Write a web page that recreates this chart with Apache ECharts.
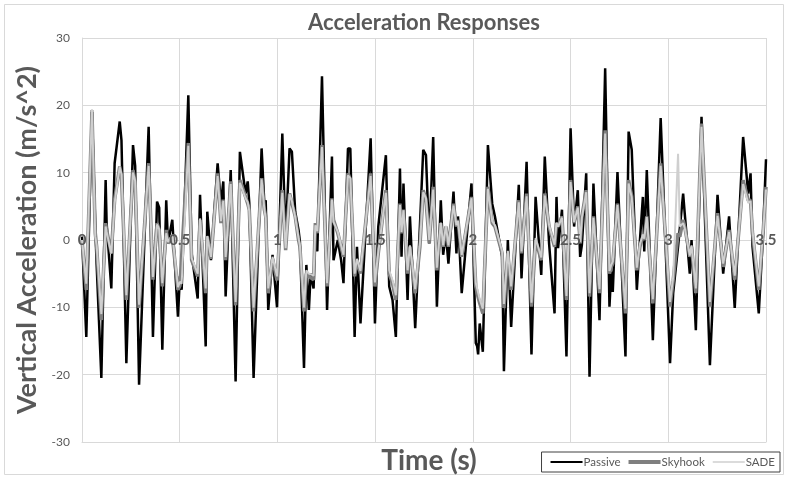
<!DOCTYPE html>
<html>
<head>
<meta charset="utf-8">
<script src="https://cdn.jsdelivr.net/npm/echarts@6/dist/echarts.min.js"></script>
<style>
  html, body { margin: 0; padding: 0; background: #fff; }
  #chart { width: 788px; height: 479px; }
</style>
</head>
<body>
<div id="chart"></div>
<script>
// Sample times (s) of the response record
const time = [
  0.000, 0.022, 0.051, 0.068, 0.075, 0.099, 0.121, 0.126, 0.150, 0.167,
  0.193, 0.202, 0.227, 0.261, 0.272, 0.292, 0.341, 0.363, 0.384, 0.395,
  0.411, 0.431, 0.440, 0.462, 0.491, 0.501, 0.510, 0.544, 0.561, 0.592,
  0.604, 0.633, 0.641, 0.660, 0.694, 0.711, 0.723, 0.735, 0.761, 0.786,
  0.808, 0.837, 0.848, 0.856, 0.878, 0.919, 0.933, 0.940, 0.953, 0.975,
  0.998, 1.025, 1.042, 1.062, 1.074, 1.091, 1.108, 1.115, 1.136, 1.148,
  1.161, 1.170, 1.185, 1.194, 1.204, 1.228, 1.254, 1.279, 1.287, 1.309,
  1.326, 1.338, 1.361, 1.373, 1.395, 1.407, 1.425, 1.477, 1.499, 1.516,
  1.555, 1.572, 1.589, 1.606, 1.627, 1.635, 1.645, 1.666, 1.678, 1.705,
  1.729, 1.746, 1.760, 1.777, 1.797, 1.816, 1.836, 1.848, 1.862, 1.875,
  1.901, 1.916, 1.924, 1.943, 1.993, 2.015, 2.022, 2.027, 2.035, 2.051,
  2.077, 2.099, 2.113, 2.150, 2.159, 2.179, 2.196, 2.235, 2.249, 2.275,
  2.300, 2.321, 2.350, 2.368, 2.390, 2.418, 2.428, 2.436, 2.456, 2.479,
  2.500, 2.518, 2.537, 2.549, 2.558, 2.580, 2.597, 2.617, 2.648, 2.677,
  2.699, 2.708, 2.716, 2.740, 2.781, 2.797, 2.813, 2.839, 2.855, 2.870,
  2.877, 2.890, 2.921, 2.961, 3.009, 3.025, 3.050, 3.059, 3.076, 3.084,
  3.110, 3.119, 3.141, 3.170, 3.213, 3.252, 3.281, 3.311, 3.340, 3.383,
  3.409, 3.421, 3.431, 3.463, 3.485, 3.500
];

// Vertical acceleration (m/s^2), passive suspension
const passive = [
  0.5, -14.4, 19.3, 2.0, -3.7, -20.5, 8.9, 2.5, -7.2, 11.4,
  17.6, 14.8, -18.3, 14.1, 11.0, -21.5, 16.8, -14.4, 5.7, 4.8,
  -16.3, 5.9, -0.5, 3.0, -11.4, -5.4, -7.4, 21.5, -2.0, -8.7,
  6.7, -15.8, 4.2, -3.0, 11.4, 5.4, 8.7, -8.4, 10.4, -21.0,
  13.1, 6.9, 8.7, 5.5, -20.5, 13.6, 5.4, 5.9, -10.4, -2.2,
  -10.0, 15.8, 0.0, 13.6, 13.1, 4.2, 1.5, -0.2, -19.0, -3.7,
  -10.4, -5.0, -7.2, 2.2, -1.7, 24.3, -10.4, 12.4, -3.0, 0.0,
  -3.0, -6.4, 13.6, 13.6, -14.4, -1.0, -12.4, 15.1, -12.4, 2.0,
  12.6, -6.9, -8.9, -14.4, 10.6, -2.5, 8.4, -8.9, 3.5, -13.1,
  2.0, 13.4, 12.6, -0.5, 15.3, -9.9, 5.9, -2.2, 1.0, -3.5,
  7.2, -2.0, 3.5, -7.9, 8.4, -15.3, -15.8, -17.0, -12.4, -16.6,
  14.1, 5.4, 3.5, -2.5, -19.5, 0.0, -12.9, 8.2, -5.7, 11.6,
  -17.0, 6.4, -5.2, 12.4, -0.5, -10.9, 6.4, -1.2, 4.5, -17.3,
  16.6, 2.0, 7.4, -2.5, -0.7, 9.9, -20.3, 8.4, -11.9, 25.5,
  -9.9, -4.7, -7.7, 10.1, -17.3, 16.1, 13.4, -7.4, 0.0, 6.4,
  -1.7, 10.4, -14.9, 18.1, -18.3, -7.9, -1.0, -1.0, 6.9, 4.0,
  -5.0, 0.0, -13.4, 18.3, -18.6, 6.7, -5.0, 3.5, -10.1, 15.3,
  6.9, 9.9, -1.0, -10.9, 1.0, 12.0
];

// Vertical acceleration (m/s^2), skyhook control
const skyhook = [
  0.0, -7.4, 19.0, 1.0, -1.0, -11.9, 2.5, 1.5, -2.0, 6.0,
  10.9, 9.5, -8.9, 10.4, 8.5, -10.1, 11.4, -5.9, 2.5, 1.5,
  -6.9, 1.5, -0.5, 0.5, -7.4, -6.8, -7.0, 14.4, -3.0, -5.4,
  3.0, -7.9, 0.5, -2.8, 9.9, 2.5, 6.0, -3.0, 8.7, -9.7,
  8.9, 6.4, 5.4, 4.5, -10.6, 9.2, 4.5, 3.5, -7.9, -2.8,
  -6.0, 7.4, -1.5, 6.9, 5.5, 3.5, 0.0, -1.0, -10.6, -5.0,
  -5.4, -5.2, -5.9, 2.5, 1.0, 14.1, -6.9, 6.2, 3.0, 1.0,
  -1.0, -2.5, 9.9, 9.0, -5.4, -3.0, -5.0, 9.9, -6.9, -2.0,
  7.4, -5.0, -6.5, -8.9, 5.4, 1.0, 4.5, -5.0, -1.0, -7.9,
  -1.0, 7.4, 6.0, -0.5, 7.9, -4.5, 2.5, -1.0, 2.0, -1.0,
  5.4, 2.0, 3.0, -2.5, 6.4, -6.9, -7.9, -8.5, -9.4, -10.9,
  7.9, 2.5, 2.0, -2.0, -10.1, -2.0, -7.4, 5.9, -2.0, 6.9,
  -9.9, 0.0, -3.0, 6.9, 2.0, -1.0, 2.5, 2.0, 3.5, -8.9,
  8.9, 2.5, 5.0, -0.5, 3.5, 7.4, -8.4, 3.5, -7.9, 16.3,
  -5.0, -4.0, -3.5, 5.4, -10.9, 8.9, 6.5, -4.5, -1.0, 0.5,
  0.0, 3.5, -9.4, 11.4, -9.9, -6.0, 1.0, 0.5, 3.0, 2.0,
  -2.5, -1.0, -7.9, 17.3, -9.9, 4.0, -4.0, 1.5, -5.9, 8.9,
  5.9, 5.9, 1.0, -7.4, 1.0, 7.9
];

// Vertical acceleration (m/s^2), SADE control
const sade = [
  0.0, -6.5, 19.4, 0.5, -0.8, -11.0, 2.0, 1.2, -2.0, 5.5,
  10.9, 9.8, -8.2, 10.0, 8.8, -9.6, 11.0, -5.5, 2.3, 1.6,
  -6.4, 1.0, -0.3, 0.8, -7.0, -6.2, -6.5, 14.0, -2.7, -5.0,
  3.2, -7.2, 0.6, -2.5, 9.5, 2.8, 5.8, -2.5, 8.3, -9.2,
  8.5, 6.2, 5.6, 4.3, -10.0, 9.0, 4.6, 3.2, -7.2, -2.5,
  -5.4, 7.0, -1.2, 6.8, 5.8, 3.4, 0.3, -0.8, -10.0, -4.5,
  -5.0, -4.8, -5.3, 2.2, 1.3, 13.8, -6.4, 6.0, 2.7, 1.2,
  -0.8, -2.2, 9.6, 9.2, -5.0, -2.8, -4.6, 9.5, -6.3, -1.8,
  7.0, -4.5, -6.0, -8.2, 5.2, 1.2, 4.4, -4.5, -0.8, -7.3,
  -0.6, 7.1, 6.2, 0.0, 7.5, -4.1, 2.6, -0.8, 2.1, -0.8,
  5.1, 2.2, 2.8, -2.2, 6.2, -6.4, -7.2, -7.8, -8.8, -10.2,
  7.6, 2.8, 2.2, -1.7, -9.5, -1.6, -6.9, 5.6, -1.7, 6.5,
  -9.3, 0.3, -2.6, 6.6, 2.2, -0.7, 2.6, 2.0, 3.3, -8.3,
  8.6, 2.7, 4.8, -0.3, 3.3, 7.1, -7.9, 3.3, -7.3, 15.8,
  -4.6, -3.7, -3.2, 5.2, -10.2, 8.4, 6.3, -4.1, -0.6, 0.8,
  0.2, 3.4, -8.8, 11.0, -9.2, -5.5, 12.8, 2.0, 2.5, 1.8,
  -2.3, -0.8, -7.2, 16.8, -9.2, 3.6, -3.5, 1.2, -5.3, 8.3,
  5.5, 5.8, 1.3, -6.9, 1.2, 7.5
];

// Axis ticks
const xTicks = { min: 0, max: 3.5, step: 0.5 };
const yTicks = { min: -30, max: 30, step: 10 };

const pairs = values => time.map((t, i) => [t, values[i]]);

const textGray = '#595959';
const gridGray = '#d9d9d9';
const font = 'Lato, "Liberation Sans", sans-serif';

// Plot box in pixels
const gridBox = { left: 82, right: 22, top: 38, bottom: 37 };
const plotHeight = 479 - gridBox.top - gridBox.bottom;
// Time labels sit on the zero line of the acceleration scale
const zeroOffset = -plotHeight * (0 - yTicks.min) / (yTicks.max - yTicks.min);

// Legend swatches: a horizontal bar of given thickness inside a fixed 32x10 box
const swatch = h => {
  const y0 = 5 - h / 2, y1 = 5 + h / 2;
  return 'path://M0,0L1,0Z M0,10L1,10Z M0,' + y0 + 'L32,' + y0 + 'L32,' + y1 + 'L0,' + y1 + 'Z';
};

const chart = echarts.init(document.getElementById('chart'), null, { renderer: 'canvas' });

chart.setOption({
  backgroundColor: '#ffffff',
  animation: false,
  title: [
    {
      text: 'Acceleration Responses',
      left: 419,
      top: 7,
      textAlign: 'center',
      textStyle: { fontFamily: font, fontSize: 22, fontWeight: 'bold', color: textGray }
    },
    {
      text: 'Time (s)',
      left: 424,
      top: 442,
      textAlign: 'center',
      textStyle: { fontFamily: font, fontSize: 28, fontWeight: 'bold', color: textGray }
    }
  ],
  graphic: [
    {
      type: 'rect',
      silent: true,
      shape: { x: 4.5, y: 4.5, width: 779, height: 470 },
      style: { fill: 'none', stroke: gridGray, lineWidth: 1 }
    }
  ],
  legend: {
    right: 8,
    bottom: 7,
    itemWidth: 32,
    itemHeight: 10,
    itemGap: 8,
    padding: [4, 5, 4, 9],
    borderColor: '#404040',
    borderWidth: 1,
    textStyle: { fontFamily: font, fontSize: 11.5, color: textGray, padding: [0, 0, 0, -4] },
    data: [
      { name: 'Passive', icon: swatch(2), itemStyle: { color: '#000000' } },
      { name: 'Skyhook', icon: swatch(4), itemStyle: { color: '#7f7f7f' } },
      { name: 'SADE', icon: swatch(1.5), itemStyle: { color: '#cfcfcf' } }
    ]
  },
  grid: { left: gridBox.left, right: gridBox.right, top: gridBox.top, bottom: gridBox.bottom, containLabel: false },
  xAxis: [
    {
      // time scale with its vertical grid lines
      type: 'value',
      min: xTicks.min,
      max: xTicks.max,
      interval: xTicks.step,
      axisLine: { onZero: false, show: true, lineStyle: { color: gridGray } },
      axisTick: { show: false },
      axisLabel: { show: false },
      splitLine: { show: true, lineStyle: { color: gridGray, width: 1 } }
    },
    {
      // tick labels drawn across the zero line, above the traces
      type: 'value',
      position: 'bottom',
      offset: zeroOffset,
      min: xTicks.min,
      max: xTicks.max,
      interval: xTicks.step,
      z: 20,
      axisLine: { show: false, onZero: false },
      axisTick: { show: false },
      splitLine: { show: false },
      axisLabel: {
        margin: 0,
        verticalAlign: 'middle',
        showMinLabel: true,
        showMaxLabel: true,
        fontFamily: font,
        fontSize: 15,
        fontWeight: 'bold',
        color: textGray
      }
    }
  ],
  yAxis: {
    type: 'value',
    min: yTicks.min,
    max: yTicks.max,
    interval: yTicks.step,
    name: 'Vertical Acceleration (m/s^2)',
    nameLocation: 'middle',
    nameGap: 35,
    nameTextStyle: { fontFamily: font, fontSize: 27, fontWeight: 'bold', color: textGray },
    axisLine: { show: true, lineStyle: { color: gridGray } },
    axisTick: { show: false },
    splitLine: { show: true, lineStyle: { color: gridGray, width: 1 } },
    axisLabel: { margin: 12, fontFamily: font, fontSize: 12, color: textGray }
  },
  series: [
    {
      name: 'Passive',
      type: 'line',
      xAxisIndex: 0,
      data: pairs(passive),
      symbol: 'none',
      lineStyle: { color: '#000000', width: 2.5 },
      itemStyle: { color: '#000000' },
      z: 2
    },
    {
      name: 'Skyhook',
      type: 'line',
      xAxisIndex: 0,
      data: pairs(skyhook),
      symbol: 'none',
      lineStyle: { color: '#7f7f7f', width: 3.5 },
      itemStyle: { color: '#7f7f7f' },
      z: 3
    },
    {
      name: 'SADE',
      type: 'line',
      xAxisIndex: 0,
      data: pairs(sade),
      symbol: 'none',
      lineStyle: { color: '#cfcfcf', width: 2 },
      itemStyle: { color: '#cfcfcf' },
      z: 4
    }
  ]
});
</script>
</body>
</html>
